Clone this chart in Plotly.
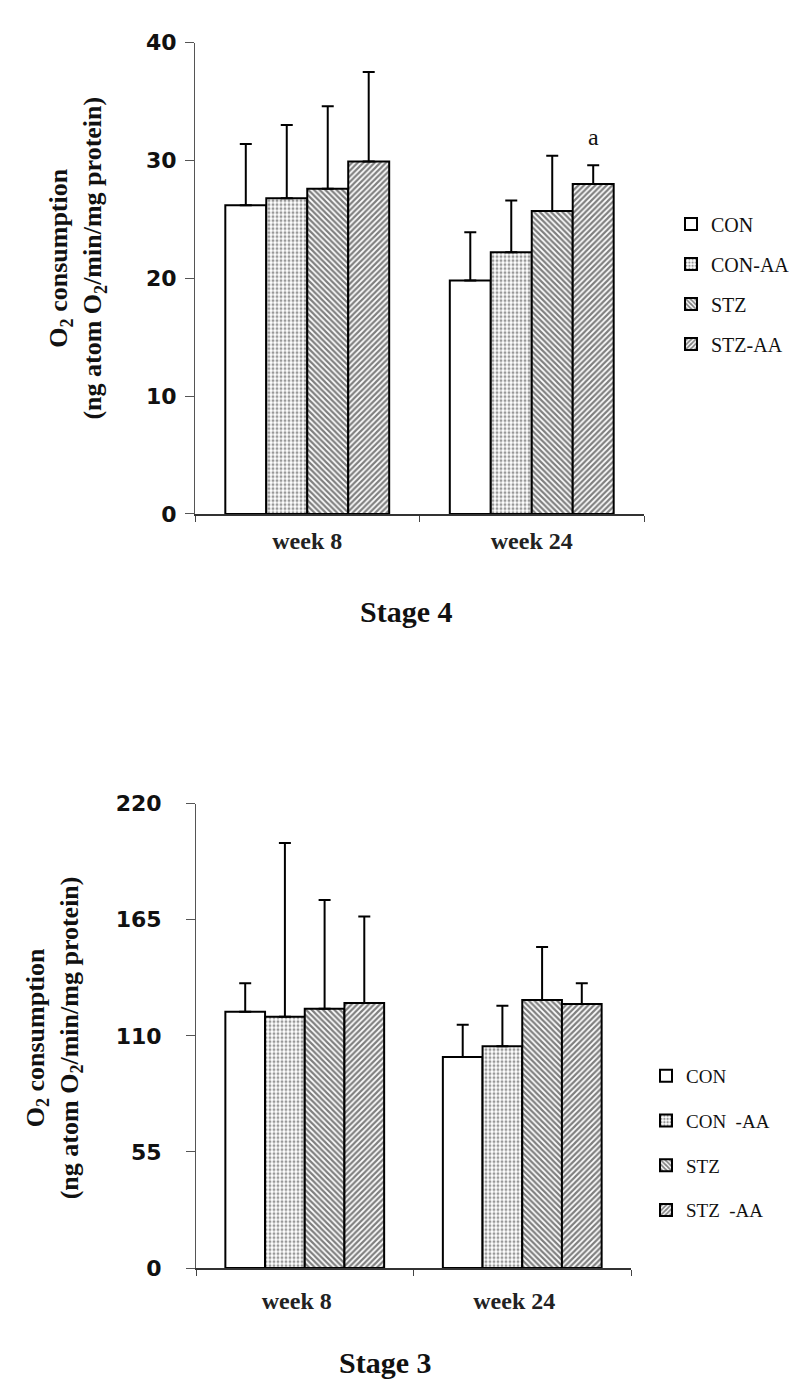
import plotly.graph_objects as go

weeks = ["week 8", "week 24"]
names_top = ["CON", "CON-AA", "STZ", "STZ-AA"]
names_bot = ["CON", "CON\u00a0\u00a0-AA", "STZ", "STZ\u00a0\u00a0-AA"]

# Stage 4 (top) means and SD (upper error)
s4_con = [26.2, 19.8]
s4_con_err = [5.2, 4.1]
s4_conaa = [26.8, 22.2]
s4_conaa_err = [6.2, 4.4]
s4_stz = [27.6, 25.7]
s4_stz_err = [7.0, 4.7]
s4_stzaa = [29.9, 28.0]
s4_stzaa_err = [7.6, 1.6]

# Stage 3 (bottom)
s3_con = [121.4, 100.0]
s3_con_err = [13.5, 15.3]
s3_conaa = [119.1, 105.1]
s3_conaa_err = [82.3, 19.1]
s3_stz = [122.8, 127.0]
s3_stz_err = [51.6, 25.1]
s3_stzaa = [125.6, 125.1]
s3_stzaa_err = [40.9, 9.8]

top_ticks = [0, 10, 20, 30, 40]
bot_ticks = [0, 55, 110, 165, 220]

patterns = [
    dict(shape=""),
    dict(shape=".", size=4, solidity=0.45, fgcolor="#333"),
    dict(shape="\\", size=4, solidity=0.55, fgcolor="#000"),
    dict(shape="/", size=4, solidity=0.55, fgcolor="#000"),
]

W, H = 797, 1386
fig = go.Figure()

top_vals = [s4_con, s4_conaa, s4_stz, s4_stzaa]
top_errs = [s4_con_err, s4_conaa_err, s4_stz_err, s4_stzaa_err]
bot_vals = [s3_con, s3_conaa, s3_stz, s3_stzaa]
bot_errs = [s3_con_err, s3_conaa_err, s3_stz_err, s3_stzaa_err]

for i in range(4):
    fig.add_trace(go.Bar(
        x=weeks, y=top_vals[i], name=names_top[i], legend="legend",
        legendgroup="t%d" % i, xaxis="x", yaxis="y",
        marker=dict(color="white", line=dict(color="black", width=2),
                    pattern=dict(fillmode="overlay", **patterns[i])),
        error_y=dict(type="data", array=top_errs[i], arrayminus=[0, 0], symmetric=False,
                     color="black", thickness=2, width=6),
    ))
for i in range(4):
    fig.add_trace(go.Bar(
        x=weeks, y=bot_vals[i], name=names_bot[i], legend="legend2",
        legendgroup="b%d" % i, xaxis="x2", yaxis="y2",
        marker=dict(color="white", line=dict(color="black", width=2),
                    pattern=dict(fillmode="overlay", **patterns[i])),
        error_y=dict(type="data", array=bot_errs[i], arrayminus=[0, 0], symmetric=False,
                     color="black", thickness=2, width=6),
    ))

serif = "Liberation Serif"
sans = "DejaVu Sans"

xcommon = dict(type="category", tickson="boundaries", ticks="outside", ticklen=6,
               tickcolor="#444", showline=True, linecolor="#333", linewidth=1.5,
               showgrid=False, range=[-0.5, 1.5],
               tickfont=dict(family=serif, size=24, color="#222", weight="bold"))
ycommon = dict(ticks="outside", ticklen=9, tickcolor="#555", showline=True,
               linecolor="#555", linewidth=1, showgrid=False, zeroline=False,
               tickfont=dict(family=sans, size=22, color="#111", weight="bold"))

fig.update_layout(
    width=W, height=H, margin=dict(l=0, r=0, t=0, b=0),
    paper_bgcolor="white", plot_bgcolor="white",
    barmode="group", bargap=0.27, bargroupgap=0,
    xaxis=dict(domain=[187 / W, 636 / W], anchor="y", ticklabelstandoff=5, **xcommon),
    yaxis=dict(domain=[1 - 503 / H, 1 - 23 / H], anchor="x", range=[0, 40],
               tickvals=top_ticks, ticklabelstandoff=4, **ycommon),
    xaxis2=dict(domain=[188 / W, 623 / W], anchor="y2", ticklabelstandoff=10,
                ticklabelshift=-8, **xcommon),
    yaxis2=dict(domain=[1 - 1271 / H, 1 - 798 / H], anchor="x2", range=[0, 220],
                tickvals=bot_ticks, ticklabelstandoff=20, **ycommon),
    legend=dict(x=663 / W, y=1 - 188 / H, xanchor="left", yanchor="top",
                font=dict(family=serif, size=20, color="#111"),
                traceorder="grouped", tracegroupgap=11, bgcolor="rgba(0,0,0,0)"),
    legend2=dict(x=638 / W, y=1 - 1056 / H, xanchor="left", yanchor="top",
                 font=dict(family=serif, size=19, color="#111"),
                 traceorder="grouped", tracegroupgap=17, bgcolor="rgba(0,0,0,0)"),
    showlegend=True,
)

ytitle = "O<sub>2</sub> consumption<br>(ng atom O<sub>2</sub>/min/mg protein)"
fig.add_annotation(text=ytitle, textangle=-90, xref="paper", yref="paper",
                   x=69 / W, y=1 - 243 / H, xanchor="center", yanchor="middle",
                   showarrow=False,
                   font=dict(family=serif, size=26, color="#111", weight="bold"))
fig.add_annotation(text=ytitle, textangle=-90, xref="paper", yref="paper",
                   x=46 / W, y=1 - 1037 / H, xanchor="center", yanchor="middle",
                   showarrow=False,
                   font=dict(family=serif, size=26, color="#111", weight="bold"))
fig.add_annotation(text="Stage 4", xref="paper", yref="paper",
                   x=398 / W, y=1 - 602 / H, xanchor="center", yanchor="middle",
                   showarrow=False,
                   font=dict(family=serif, size=30, color="#111", weight="bold"))
fig.add_annotation(text="Stage 3", xref="paper", yref="paper",
                   x=377 / W, y=1 - 1367 / H, xanchor="center", yanchor="middle",
                   showarrow=False,
                   font=dict(family=serif, size=30, color="#111", weight="bold"))
# significance mark above STZ-AA, week 24 (stage 4)
fig.add_annotation(text="a", xref="x", yref="y", x=1 + 0.73 * 0.375, y=32.0,
                   xanchor="center", yanchor="middle", showarrow=False,
                   font=dict(family=serif, size=24, color="#111"))

fig.write_html("out.html")
